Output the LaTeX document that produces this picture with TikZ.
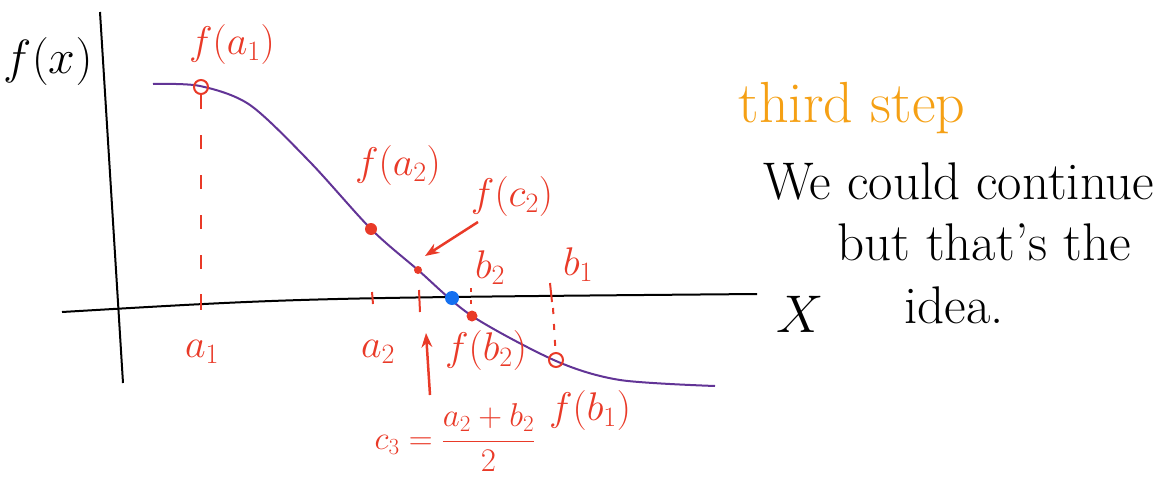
\RequirePackage{fix-cm}
\documentclass[tikz,border=0pt]{standalone}
\usepackage{amsmath}
\usetikzlibrary{arrows.meta,positioning}
\definecolor{inkred}{RGB}{233,58,40}
\definecolor{inkpurple}{RGB}{98,52,150}
\definecolor{inkblue}{RGB}{20,112,240}
\definecolor{inkorange}{RGB}{245,160,20}
\begin{document}
\begin{tikzpicture}[
  x=1pt, y=-1pt,
  every node/.style={font=\fontsize{40}{46}\selectfont, inner sep=1pt},
  lbl/.style={text=inkred},
  txt/.style={font=\fontsize{53}{62}\selectfont},
  dot/.style={circle, fill=inkred, inner sep=0pt, minimum size=#1},
  dot/.default=9pt,
  ring/.style={circle, draw=inkred, line width=2pt, inner sep=0pt, minimum width=9pt, minimum height=14pt},
  tick/.style={draw=inkred, line width=2pt},
  >=Stealth
]
\useasboundingbox (0,0) rectangle (1167,479);
% axes
\draw[line width=2pt] (100,12) -- (123,383);
\draw[line width=2pt] (62,312) .. controls (300,298) .. (757,294);
\node[txt, font=\fontsize{48}{56}\selectfont] (fx) at (48,62) {$f(x)$};
\node[txt] (xl) at (800,314) {$X$};
% the function
\draw[inkpurple, line width=2pt] plot[smooth, tension=0.5] coordinates
  {(153,84) (200,86) (250,105) (310,162) (371,229) (418,270) (472,316) (556,361) (620,380) (715,386)};
% points on the curve
\node[ring] (fa1) at (201,87) {};
\node[dot=12pt] (fa2) at (371,229) {};
\node[dot=8pt] (fc2) at (418,270) {};
\node[dot=11pt] (fb2) at (472,316) {};
\node[ring] (fb1) at (556,360) {};
\node[circle, fill=inkblue, inner sep=0pt, minimum width=11pt, minimum height=14pt] (root) at (452,298) {};
% ticks on the x axis
\coordinate (t1) at (201,310);
\coordinate (c3t) at (420,312);
\draw[tick] (201,294) -- (t1);
\draw[tick] (372,292) -- (373,304);
\draw[tick] (419,290) -- (c3t);
\draw[tick] (471,288) -- (471,292);
\draw[tick] (471,300) -- (471,304);
\draw[tick] (550,283) -- (552,302);
\draw[tick, dash pattern=on 6pt off 10pt] (553,308) -- (fb1);
\draw[tick, dash pattern=on 14pt off 26pt] (fa1) -- (t1);
% labels
\node[lbl] (la1) at (232,45) {$f(a_1)$};
\node[lbl] (la2) at (398,165) {$f(a_2)$};
\node[lbl] (lc2) at (512,196) {$f(c_2)$};
\node[lbl] (lb2) at (490,268) {$b_2$};
\node[lbl] (lb1) at (578,265) {$b_1$};
\node[lbl] (xa1) at (202,352) {$a_1$};
\node[lbl] (xa2) at (378,352) {$a_2$};
\node[lbl] (lfb2) at (486,350) {$f(b_2)$};
\node[lbl] (lfb1) at (590,410) {$f(b_1)$};
\node[lbl, font=\fontsize{33}{38}\selectfont] (c3) at (455,438) {$c_3=\dfrac{a_2+b_2}{2}$};
% arrows
\coordinate (c3a) at (426,333);
\coordinate (c2a) at (478,222);
\coordinate (c2b) at (425,256);
\draw[->, inkred, line width=2.5pt] (430,395) -- (c3a);
\draw[->, inkred, line width=2.5pt] (c2a) -- (c2b);
% side notes
\node[text=inkorange, font=\fontsize{58}{66}\selectfont] (step) at (852,108) {third step};
\node[txt, anchor=west] (n1) at (762,182) {We could continue};
\node[txt, anchor=west] (n2) at (836,242) {but that's the};
\node[txt, anchor=west] (n3) at (903,305) {idea.};
\end{tikzpicture}
\end{document}
